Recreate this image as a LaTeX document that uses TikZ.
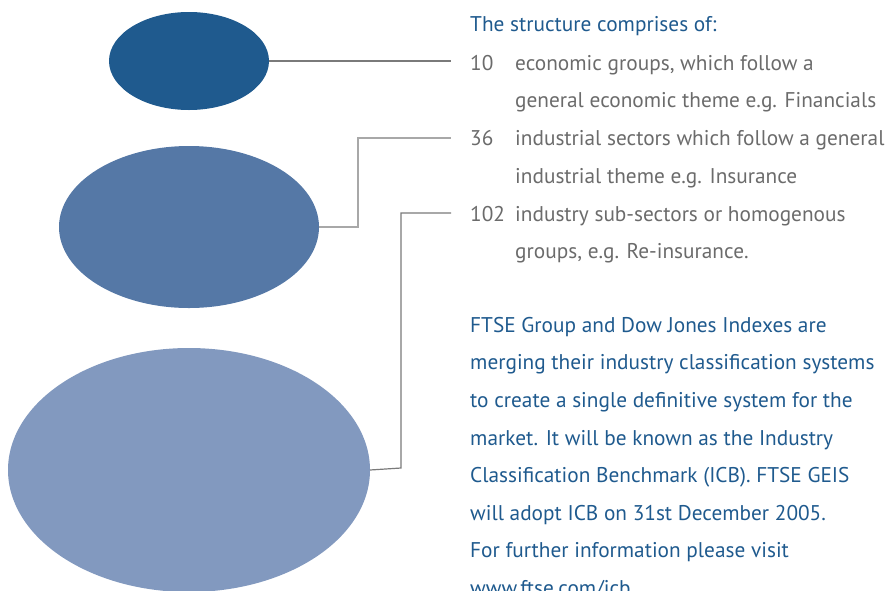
\documentclass[tikz,border=0pt]{standalone}
\usepackage{fontspec}
\setmainfont{PT Sans}
\usetikzlibrary{shapes.geometric}
\definecolor{blueA}{HTML}{1F5A8E}
\definecolor{blueB}{HTML}{5578A6}
\definecolor{blueC}{HTML}{8299BF}
\definecolor{greytext}{HTML}{6B6B6B}
\definecolor{lineA}{HTML}{7A7A7A}
\definecolor{lineB}{HTML}{A8A8A8}
\tikzset{
  blob/.style={ellipse, inner sep=0pt, outer sep=0pt},
  conn/.style={line width=1.2pt},
  title/.style={anchor=base west, inner sep=0pt, text=blueA, font=\fontsize{21.3}{25}\selectfont},
  item/.style={anchor=base west, inner sep=0pt, text=greytext, font=\fontsize{21.3}{25}\selectfont},
  para/.style={anchor=base west, inner sep=0pt, text=blueA, font=\fontsize{21.3}{25}\selectfont},
}
\begin{document}
\begin{tikzpicture}[x=1pt,y=-1pt]
\useasboundingbox (0,0) rectangle (886,590);
\clip (0,0) rectangle (886,590);
% ellipses
\node[blob, fill=blueA, minimum width=160pt, minimum height=98pt] (e1) at (189,61) {};
\node[blob, fill=blueB, minimum width=260pt, minimum height=162pt] (e2) at (189,227) {};
\node[blob, fill=blueC, minimum width=362pt, minimum height=244pt] (e3) at (189,470) {};
% connector ends
\coordinate (c1) at (451,61);
\coordinate (k2) at (358,227);
\coordinate (c2) at (451,138);
\coordinate (k3) at (401,468);
\coordinate (c3) at (451,213);
\draw[conn, lineA] (e1.east) -- (c1);
\draw[conn, lineB] (e2.east) -- (k2) |- (c2);
\draw[conn, lineA] (e3.east) -- (k3) |- (c3);
% texts
\node[title] (t0) at (470,31) {The structure comprises of:};
\node[item] (n1) at (470,70) {10};
\node[item] (l1) at (515,70) {economic groups, which follow a};
\node[item] (l1b) at (515,107) {general economic theme e.g. Financials};
\node[item] (n2) at (470,145) {36};
\node[item] (l2) at (515,145) {industrial sectors which follow a general};
\node[item] (l2b) at (515,183) {industrial theme e.g. Insurance};
\node[item] (n3) at (470,221) {102};
\node[item] (l3) at (515,221) {industry sub-sectors or homogenous};
\node[item] (l3b) at (515,258) {groups, e.g. Re-insurance.};
\node[para] (p1) at (470,332) {FTSE Group and Dow Jones Indexes are};
\node[para] (p2) at (470,369) {merging their industry classification systems};
\node[para] (p3) at (470,407) {to create a single definitive system for the};
\node[para] (p4) at (470,445) {market. It will be known as the Industry};
\node[para] (p5) at (470,482) {Classification Benchmark (ICB). FTSE GEIS};
\node[para] (p6) at (470,520) {will adopt ICB on 31st December 2005.};
\node[para] (p7) at (470,557) {For further information please visit};
\node[para] (p8) at (470,595) {www.ftse.com/icb};
\end{tikzpicture}
\end{document}
